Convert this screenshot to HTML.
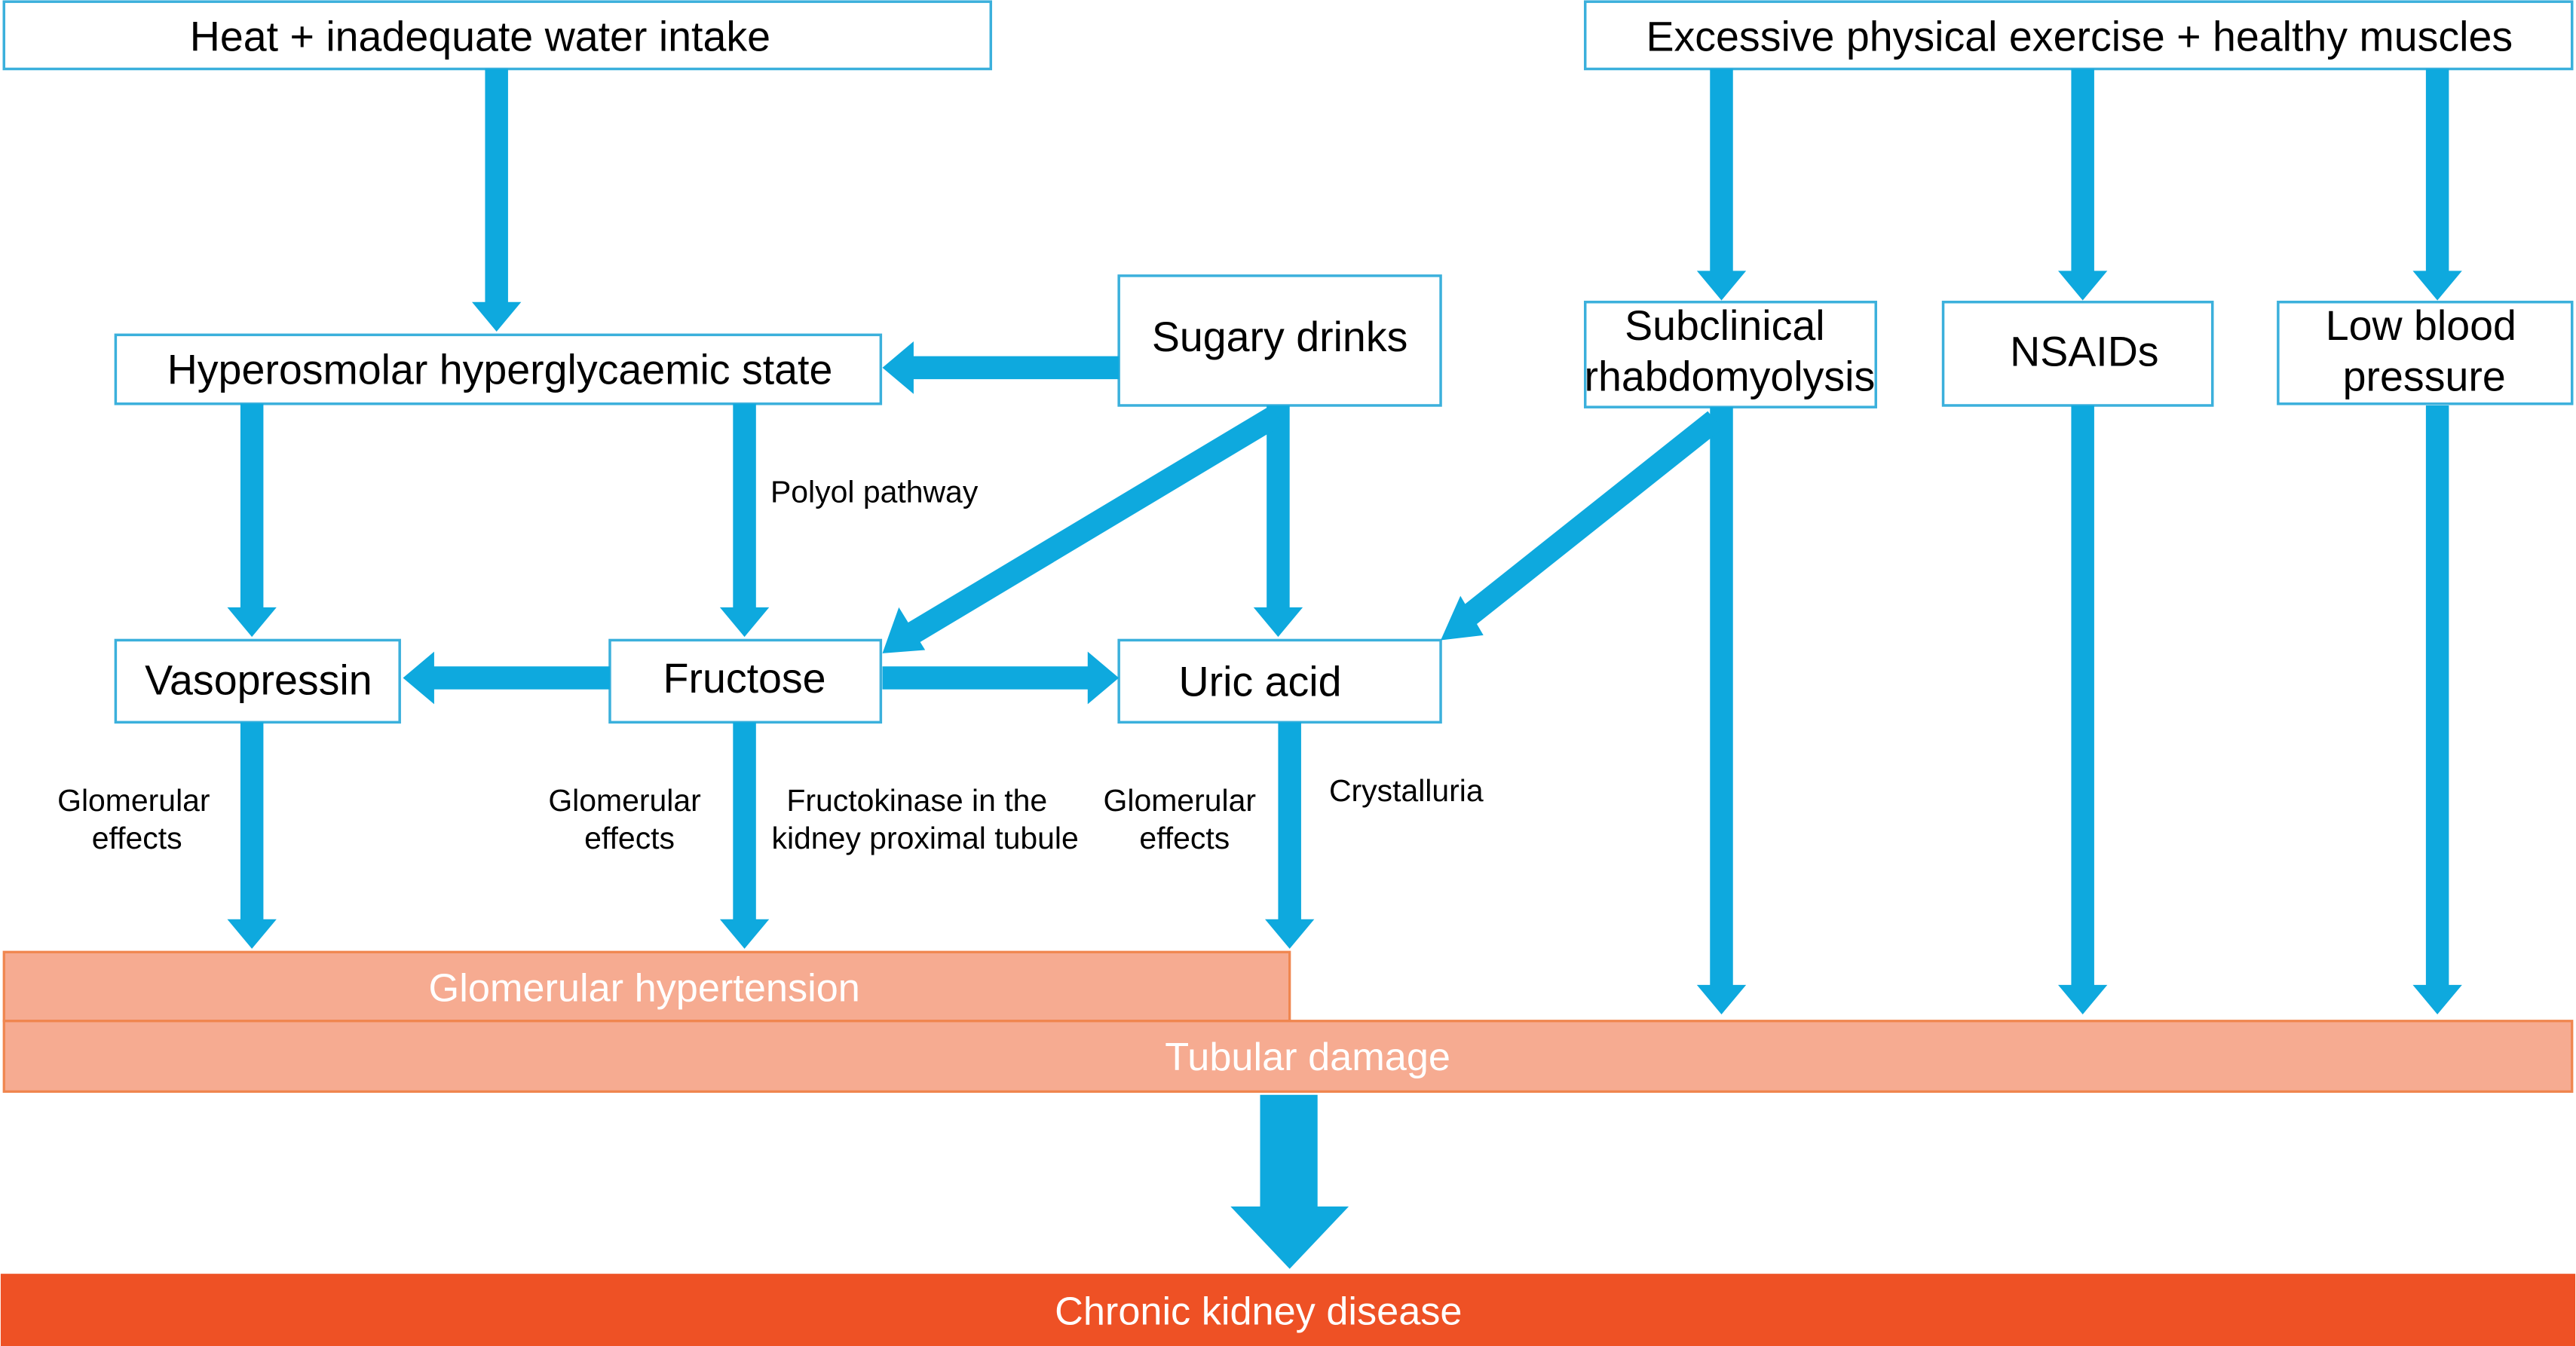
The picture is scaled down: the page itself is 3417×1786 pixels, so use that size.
<!DOCTYPE html>
<html><head><meta charset="utf-8"><style>
html,body{margin:0;padding:0;background:#fff;width:3417px;height:1786px;overflow:hidden}
svg{display:block}
text{font-family:"Liberation Sans",sans-serif}
</style></head><body>
<svg width="3417" height="1786" viewBox="0 0 1568 820" xmlns="http://www.w3.org/2000/svg">
<g fill="#fff" stroke="#3bb0dc" stroke-width="1.6">
<rect x="2" y="1" width="601" height="41"/>
<rect x="965" y="1" width="601" height="41"/>
<rect x="70" y="204" width="466" height="42"/>
<rect x="681" y="168" width="196" height="79"/>
<rect x="965" y="184" width="177" height="64"/>
<rect x="1183" y="184" width="164" height="63"/>
<rect x="1387" y="184" width="179" height="62"/>
<rect x="70" y="390" width="173" height="50"/>
<rect x="371" y="390" width="165" height="50"/>
<rect x="681" y="390" width="196" height="50"/>
</g>
<rect x="2" y="580" width="783" height="42" fill="#f6ab91" stroke="#f0864f" stroke-width="1.5"/>
<rect x="2" y="622" width="1564" height="43" fill="#f6ab91" stroke="#f0864f" stroke-width="1.5"/>
<rect x="0" y="776" width="1568" height="44" fill="#ee5125"/>
<g fill="#0ea9de">
<path d="M295 42h14v142h8l-15 18-15-18h8z"/>
<path d="M1041 42h14v123h8l-15 18-15-18h8z"/>
<path d="M1261 42h14v123h8l-15 18-15-18h8z"/>
<path d="M1477 42h14v123h8l-15 18-15-18h8z"/>
<path d="M146 246h14v124h8l-15 18-15-18h8z"/>
<path d="M446 246h14v124h8l-15 18-15-18h8z"/>
<path d="M771 247h14v123h8l-15 18-15-18h8z"/>
<path d="M146 440h14v120h8l-15 18-15-18h8z"/>
<path d="M446 440h14v120h8l-15 18-15-18h8z"/>
<path d="M778 440h14v120h8l-15 18-15-18h8z"/>
<path d="M1041 248h14v352h8l-15 18-15-18h8z"/>
<path d="M1261 247h14v353h8l-15 18-15-18h8z"/>
<path d="M1477 247h14v353h8l-15 18-15-18h8z"/>
<path d="M681 217v14H556v9l-19-16 19-16v9z"/>
<path d="M371 406v14H264v9l-19-16 19-16v9z"/>
<path d="M537 406v14h125v9l19-16-19-16v9z"/>
<path d="M767 667h35v68h19l-36 38-36-38h18z"/>
</g>
<g stroke="#0ea9de" stroke-width="14" fill="none">
<line x1="777" y1="253" x2="555" y2="386"/>
<line x1="1044" y1="256" x2="893" y2="376"/>
</g>
<g fill="#0ea9de">
<path d="M537 398l10-28 16 26z"/>
<path d="M877 390l12-27 14 24z"/>
</g>
<g font-size="25.5" fill="#000" text-anchor="middle">
<text x="292" y="31">Heat + inadequate water intake</text>
<text x="1266" y="31">Excessive physical exercise + healthy muscles</text>
<text x="304" y="234">Hyperosmolar hyperglycaemic state</text>
<text x="779" y="214">Sugary drinks</text>
<text x="1050" y="207">Subclinical</text>
<text x="1053" y="238">rhabdomyolysis</text>
<text x="1269" y="223">NSAIDs</text>
<text x="1474" y="207">Low blood</text>
<text x="1476" y="238">pressure</text>
<text x="157" y="423">Vasopressin</text>
<text x="453" y="422">Fructose</text>
<text x="767" y="424">Uric acid</text>
</g>
<g font-size="18.8" fill="#000" text-anchor="middle">
<text x="532" y="306">Polyol pathway</text>
<text x="81" y="494">Glomerular</text>
<text x="83" y="517">effects</text>
<text x="380" y="494">Glomerular</text>
<text x="383" y="517">effects</text>
<text x="558" y="494">Fructokinase in the</text>
<text x="563" y="517">kidney proximal tubule</text>
<text x="718" y="494">Glomerular</text>
<text x="721" y="517">effects</text>
<text x="856" y="488">Crystalluria</text>
</g>
<g font-size="24" fill="#fff" text-anchor="middle">
<text x="392" y="610">Glomerular hypertension</text>
<text x="796" y="652">Tubular damage</text>
<text x="766" y="807">Chronic kidney disease</text>
</g>
</svg>
</body></html>
